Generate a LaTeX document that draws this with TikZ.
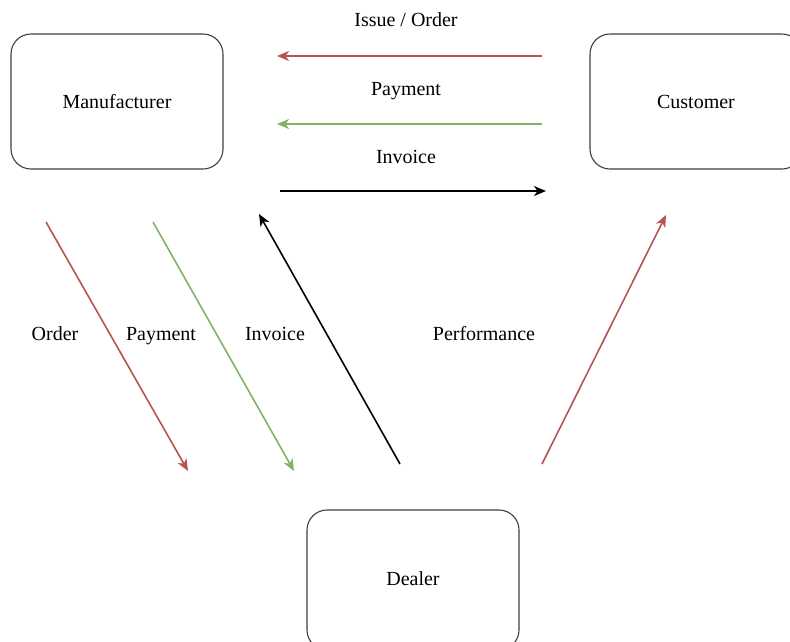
\documentclass[tikz,border=0pt]{standalone}
\usepackage{fontspec}
\setmainfont{Liberation Serif}
\usetikzlibrary{arrows.meta}
\definecolor{dred}{HTML}{B85450}
\definecolor{dgreen}{HTML}{82B366}
\begin{document}
\begin{tikzpicture}[x=1pt,y=-1pt,
  box/.style={draw=black!75,line width=1.1pt,rounded corners=20pt,fill=white},
  lbl/.style={font=\fontsize{20}{24}\selectfont,inner sep=0pt,text height=1.5ex,text depth=0.25ex,yshift=-4pt},
  flow/.style={line width=1.6pt,-{Stealth[length=12pt,width=10pt,inset=3.5pt]}}]
\useasboundingbox (0,0) rectangle (790,641);
\clip (0,0) rectangle (790,641);
\draw[box] (11,34) rectangle (223,169);
\node[lbl] (man) at (117,102) {Manufacturer};
\draw[box] (590,34) rectangle (802,169);
\node[lbl] (cus) at (696,102) {Customer};
\draw[box] (307,510) rectangle (519,650);
\node[lbl] (dea) at (413,579) {Dealer};
% coordinates
\coordinate (a1s) at (542,56);  \coordinate (a1e) at (277,56);
\coordinate (a2s) at (542,124); \coordinate (a2e) at (277,124);
\coordinate (a3s) at (280,191); \coordinate (a3e) at (546,191);
\coordinate (d1s) at (46,222);  \coordinate (d1e) at (188,471);
\coordinate (d2s) at (153,222); \coordinate (d2e) at (294,471);
\coordinate (d3s) at (400,464); \coordinate (d3e) at (259,214);
\coordinate (d4s) at (542,464); \coordinate (d4e) at (666,215);
\draw[flow,dred] (a1s) -- (a1e);
\draw[flow,dgreen] (a2s) -- (a2e);
\draw[flow,black] (a3s) -- (a3e);
\draw[flow,dred] (d1s) -- (d1e);
\draw[flow,dgreen] (d2s) -- (d2e);
\draw[flow,black] (d3s) -- (d3e);
\draw[flow,dred] (d4s) -- (d4e);
\node[lbl] (l1) at (406,20) {Issue / Order};
\node[lbl] (l2) at (406,89) {Payment};
\node[lbl] (l3) at (406,157) {Invoice};
\node[lbl] (l4) at (55,334) {Order};
\node[lbl] (l5) at (161,334) {Payment};
\node[lbl] (l6) at (275,334) {Invoice};
\node[lbl] (l7) at (484,334) {Performance};
\end{tikzpicture}
\end{document}
